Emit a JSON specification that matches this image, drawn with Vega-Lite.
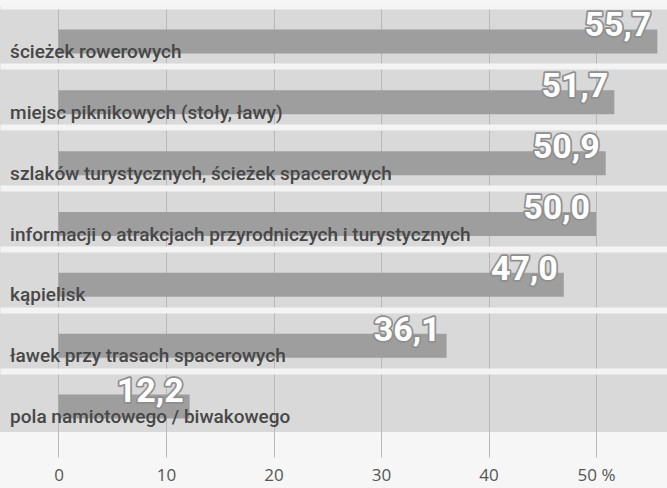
{
  "$schema": "https://vega.github.io/schema/vega-lite/v6.json",
  "width": 667,
  "height": 426,
  "autosize": "none",
  "padding": {"left": 0, "top": 6, "right": 0, "bottom": 56},
  "background": "#f6f6f6",
  "config": {
    "view": {"fill": "#d9d9d9", "stroke": null},
    "locale": {"number": {"decimal": ",", "thousands": " ", "grouping": [3], "currency": ["", ""]}}
  },
  "data": {
    "values": [
      {"kategoria": "ścieżek rowerowych", "wartosc": 55.7},
      {"kategoria": "miejsc piknikowych (stoły, ławy)", "wartosc": 51.7},
      {"kategoria": "szlaków turystycznych, ścieżek spacerowych", "wartosc": 50.9},
      {"kategoria": "informacji o atrakcjach przyrodniczych i turystycznych", "wartosc": 50.0},
      {"kategoria": "kąpielisk", "wartosc": 47.0},
      {"kategoria": "ławek przy trasach spacerowych", "wartosc": 36.1},
      {"kategoria": "pola namiotowego / biwakowego", "wartosc": 12.2}
    ]
  },
  "encoding": {
    "y": {
      "field": "kategoria",
      "type": "nominal",
      "sort": null,
      "scale": {"paddingInner": 0, "paddingOuter": 0},
      "axis": {
        "title": null,
        "labels": false,
        "ticks": false,
        "domain": false,
        "grid": true,
        "bandPosition": 0,
        "gridColor": "#f4f4f4",
        "gridWidth": 6
      }
    }
  },
  "layer": [
    {
      "mark": {"type": "bar", "color": "#9e9e9e", "height": 24, "yOffset": 5},
      "encoding": {
        "x": {
          "field": "wartosc",
          "type": "quantitative",
          "scale": {"domain": [-5.44, 56.6], "nice": false, "zero": false},
          "axis": {
            "title": null,
            "values": [0, 10, 20, 30, 40, 50],
            "labelExpr": "datum.value == 50 ? '50 %' : datum.label",
            "domain": false,
            "grid": true,
            "gridColor": "#b8b8b8",
            "gridWidth": 1,
            "tickColor": "#b8b8b8",
            "tickSize": 25,
            "labelPadding": 10,
            "labelFont": "Open Sans",
            "labelFontSize": 17,
            "labelColor": "#555555",
            "labelFlush": false
          }
        },
        "x2": {"datum": 0}
      }
    },
    {
      "mark": {
        "type": "text",
        "align": "left",
        "baseline": "alphabetic",
        "yOffset": 21.5,
        "font": "Roboto",
        "fontWeight": 500,
        "fontSize": 19,
        "color": "#474747"
      },
      "encoding": {
        "x": {"datum": -4.5},
        "text": {"field": "kategoria"}
      }
    },
    {
      "mark": {
        "type": "text",
        "align": "right",
        "baseline": "alphabetic",
        "dx": -6,
        "yOffset": 0,
        "font": "Roboto",
        "fontWeight": "bold",
        "fontSize": 34,
        "fill": "#8f8f8f",
        "stroke": "#8f8f8f",
        "strokeWidth": 3.5,
        "strokeJoin": "round"
      },
      "encoding": {
        "x": {"field": "wartosc", "type": "quantitative"},
        "text": {"field": "wartosc", "type": "quantitative", "format": ".1f"}
      }
    },
    {
      "mark": {
        "type": "text",
        "align": "right",
        "baseline": "alphabetic",
        "dx": -6,
        "yOffset": 0,
        "font": "Roboto",
        "fontWeight": "bold",
        "fontSize": 34,
        "fill": "#ffffff"
      },
      "encoding": {
        "x": {"field": "wartosc", "type": "quantitative"},
        "text": {"field": "wartosc", "type": "quantitative", "format": ".1f"}
      }
    }
  ]
}
